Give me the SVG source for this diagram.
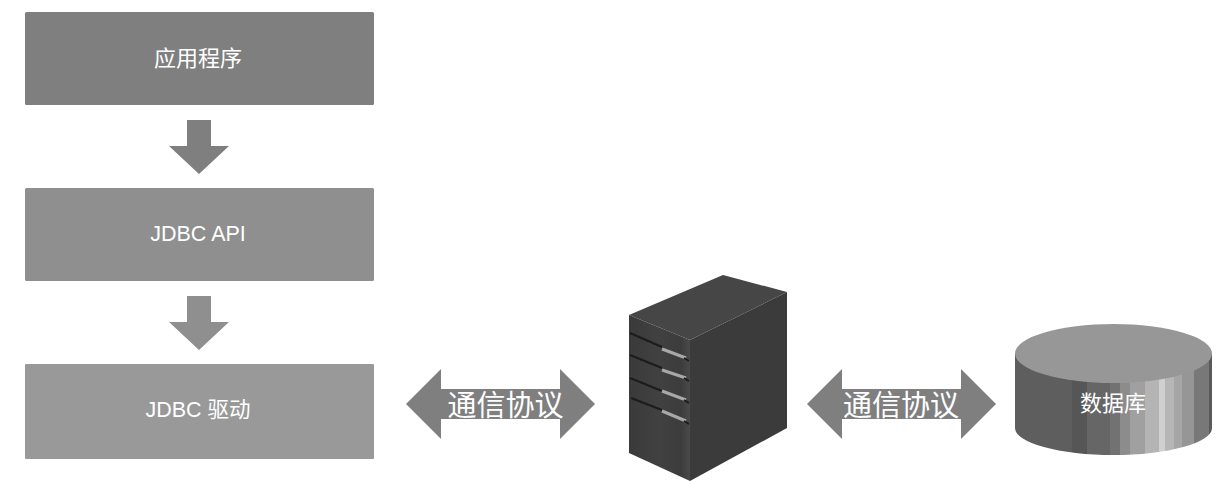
<svg xmlns="http://www.w3.org/2000/svg" width="1226" height="481" viewBox="0 0 1226 481">
<style>
.t{fill:#fff;font-family:"Noto Sans CJK SC","Liberation Sans",sans-serif;text-anchor:middle;dominant-baseline:central}
.s{font-size:22px}
.m{font-size:21.5px;font-family:"Liberation Sans","Noto Sans CJK SC",sans-serif}
.l{font-size:29px}
.arrow{fill:#7f7f7f}
.dark{stroke:#1c1c1c;stroke-width:2;fill:none}
.lite{stroke:#a8a8a8;stroke-width:3;fill:none}
</style>
<defs>
<filter id="soft" x="-10%" y="-10%" width="120%" height="120%"><feGaussianBlur stdDeviation="0.6"/></filter>
<linearGradient id="cyl" x1="1015" x2="1212" y1="0" y2="0" gradientUnits="userSpaceOnUse">
<stop offset="0" stop-color="#5e5e5e"/><stop offset=".288" stop-color="#5e5e5e"/>
<stop offset=".288" stop-color="#565656"/><stop offset=".364" stop-color="#565656"/>
<stop offset=".364" stop-color="#666"/><stop offset=".483" stop-color="#666"/>
<stop offset=".483" stop-color="#727272"/><stop offset=".534" stop-color="#727272"/>
<stop offset=".534" stop-color="#8c8c8c"/><stop offset=".585" stop-color="#8c8c8c"/>
<stop offset=".585" stop-color="#a0a0a0"/><stop offset=".661" stop-color="#a0a0a0"/>
<stop offset=".661" stop-color="#b4b4b4"/><stop offset=".729" stop-color="#b4b4b4"/>
<stop offset=".729" stop-color="#d0d0d0"/><stop offset=".763" stop-color="#d0d0d0"/>
<stop offset=".763" stop-color="#b6b6b6"/><stop offset=".805" stop-color="#b6b6b6"/>
<stop offset=".805" stop-color="#a6a6a6"/><stop offset=".847" stop-color="#a6a6a6"/>
<stop offset=".847" stop-color="#969696"/><stop offset=".907" stop-color="#969696"/>
<stop offset=".907" stop-color="#787878"/><stop offset=".983" stop-color="#787878"/>
<stop offset=".983" stop-color="#5a5a5a"/><stop offset="1" stop-color="#5a5a5a"/>
</linearGradient>
<linearGradient id="front" x1="629" x2="690" y1="0" y2="0" gradientUnits="userSpaceOnUse">
<stop offset="0" stop-color="#3a3a3a"/><stop offset=".5" stop-color="#414141"/><stop offset=".85" stop-color="#3c3c3c"/><stop offset="1" stop-color="#4a4a4a"/>
</linearGradient>
</defs>
<rect width="1226" height="481" fill="#fff"/>
<g id="app"><rect x="25" y="12" width="349" height="93" rx="1.5" fill="#7f7f7f"/><text class="t s" x="198" y="56">应用程序</text></g>
<g id="api"><rect x="25" y="188" width="349" height="93" rx="1.5" fill="#8f8f8f"/><text class="t m" x="198" y="234">JDBC API</text></g>
<g id="driver"><rect x="25" y="364" width="349" height="95" rx="1" fill="#999"/><text class="t m" x="198" y="410">JDBC 驱动</text></g>
<g id="server">
<polygon points="723,275 787,292 690,340 629,315" fill="#464646"/>
<polygon points="690,340 787,292 787,428 690,481" fill="#3b3b3b"/>
<polygon points="629,315 690,340 690,481 629,453" fill="url(#front)"/>
<g filter="url(#soft)">
<path class="dark" d="M630,333 L662,347M630,355 L662,368M630,378 L662,391M631,398 L662,410"/>
<path class="lite" d="M662,349 L686,358M662,370 L686,378M662,391 L686,400M662,411 L686,421"/>
<path class="dark" d="M684,358 L689,361M684,378 L689,381M684,400 L689,403M684,421 L689,424"/>
</g>
</g>
<g id="database">
<path d="M1015,354 V428 A98.5,27 0 0 0 1212,428 V354 Z" fill="url(#cyl)"/>
<ellipse cx="1113.5" cy="353.5" rx="98.5" ry="29.5" fill="#979797"/>
<text class="t s" x="1113" y="401">数据库</text>
</g>
<g id="connectors">
<polygon class="arrow" points="187,120 211,120 211,146 229,146 199,174 169,146 187,146"/>
<polygon fill="#8f8f8f" points="187,296 211,296 211,322 229,322 199,350 169,322 187,322"/>
<polygon class="arrow" points="406,404 441,369 441,389 560,389 560,369 595,404 560,439 560,419 441,419 441,439"/>
<polygon class="arrow" points="807,404 842,369 842,389 961,389 961,369 996,404 961,439 961,419 842,419 842,439"/>
</g>
<g id="labels">
<text class="t l" x="505.500" y="402.500">通信协议</text>
<text class="t l" x="901" y="402.500">通信协议</text>
</g>
</svg>
